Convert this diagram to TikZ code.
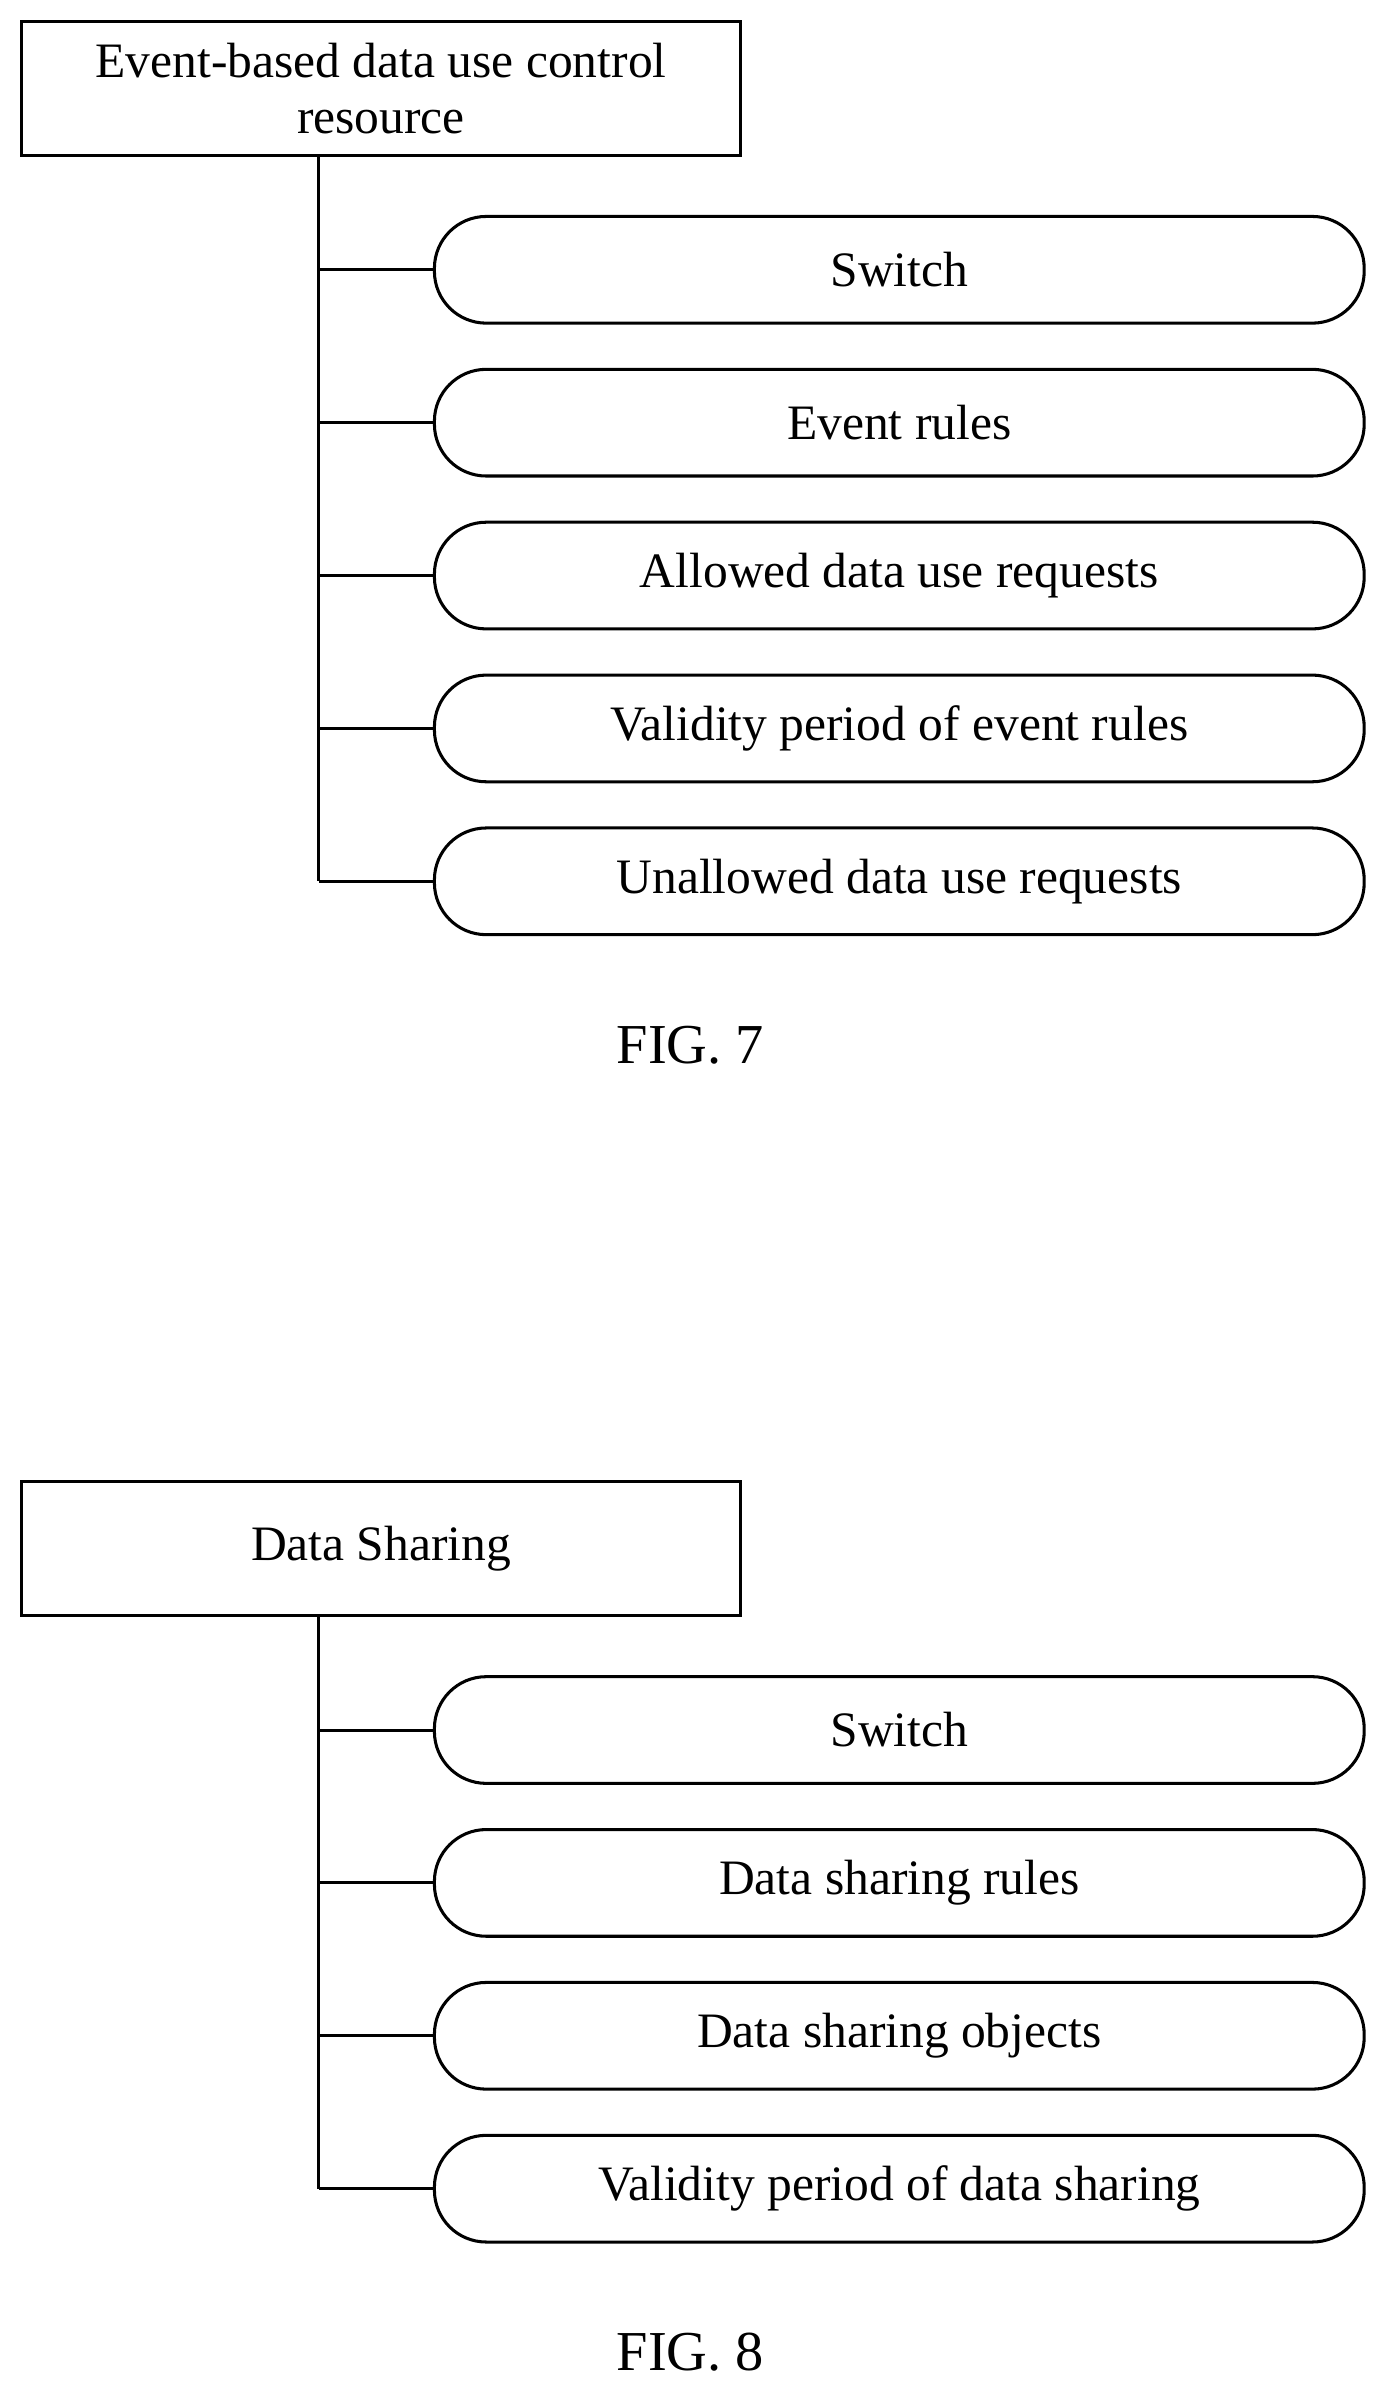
\documentclass[tikz,border=0pt]{standalone}
\usepackage{fontspec}
\setmainfont{Liberation Serif}
\usetikzlibrary{positioning}
\begin{document}
\begin{tikzpicture}[x=1pt, y=-1pt, line width=2pt,
	root/.style={rectangle, draw, minimum width=472pt, minimum height=88pt, align=center, font=\fontsize{32.5}{37}\selectfont},
	item/.style={rectangle, draw, rounded corners=34pt, minimum width=610pt, minimum height=70pt, font=\fontsize{32.5}{37}\selectfont},
	figcap/.style={font=\fontsize{37}{42}\selectfont}]
\useasboundingbox (0,0) rectangle (910,1568);

% FIG. 7
\node[root] (R7) at (250,58) {Event-based data use control\\resource};
\foreach \t [count=\i] in {Switch, Event rules, Allowed data use requests, Validity period of event rules, Unallowed data use requests} {
	\node[item] (A\i) at (590,{177+100.3*(\i-1)}) {\t};
	\coordinate (a\i) at (209,{177+100.3*(\i-1)});
	\draw (a\i) -- (A\i);
}
\draw (R7.south -| a1) -- (a5);
\node[figcap] (F7) at (453,686) {FIG. 7};

% FIG. 8
\node[root] (R8) at (250,1016) {Data Sharing};
\foreach \t [count=\i] in {Switch, Data sharing rules, Data sharing objects, Validity period of data sharing} {
	\node[item] (B\i) at (590,{1135+100.3*(\i-1)}) {\t};
	\coordinate (b\i) at (209,{1135+100.3*(\i-1)});
	\draw (b\i) -- (B\i);
}
\draw (R8.south -| b1) -- (b4);
\node[figcap] (F8) at (453,1543) {FIG. 8};
\end{tikzpicture}
\end{document}
